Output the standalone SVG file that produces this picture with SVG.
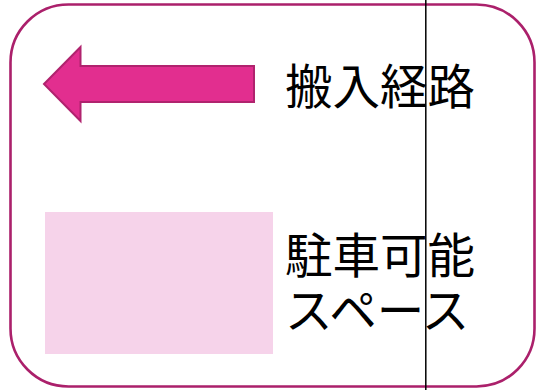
<svg xmlns="http://www.w3.org/2000/svg" width="538" height="390" viewBox="0 0 538 390">
<style>
.lbl{font-family:"Noto Sans CJK JP","Noto Sans",sans-serif;font-size:47.5px;fill:#000}
</style>
<rect width="538" height="390" fill="#fff"/>
<g id="frame"><rect x="10.5" y="4.5" width="524" height="382" rx="58" ry="58" fill="none" stroke="#ab206b" stroke-width="2.6"/></g>
<g id="arrow-node"><polygon points="44,84 80.5,47 80.5,66 254,66 254,102 80.5,102 80.5,121" fill="#e22e8f" stroke="#b0236e" stroke-width="2"/></g>
<g id="route-label"><text class="lbl" x="285" y="104">搬入経路</text></g>
<g id="parking-node"><rect x="45" y="212" width="228" height="142" fill="#f6d3ea"/></g>
<g id="parking-label"><text class="lbl" x="285" y="273">駐車可能</text><text class="lbl" x="285" y="328">スペース</text></g>
<g id="connectors"><line x1="425.8" y1="0" x2="425.8" y2="390" stroke="#000" stroke-width="1.5"/></g>
</svg>
